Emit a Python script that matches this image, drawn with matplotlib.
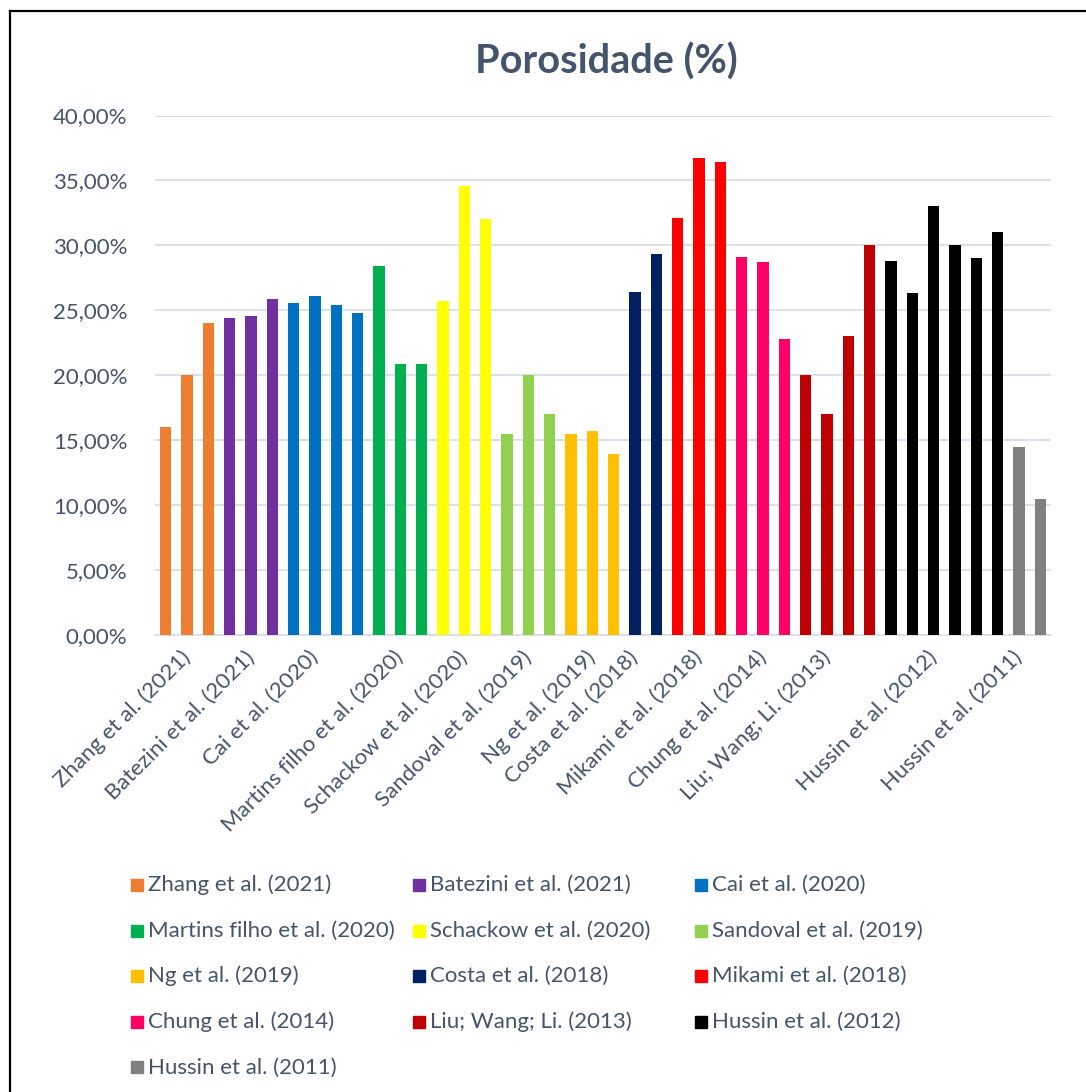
import matplotlib as mpl
mpl.use('Agg')
from matplotlib import pyplot as plt
from matplotlib.lines import Line2D
from matplotlib.patches import Rectangle
from matplotlib.ticker import FuncFormatter

plt.rcParams['font.family'] = ['Lato', 'DejaVu Sans']

# studies, in chart order
groups = ['Zhang et al. (2021)', 'Batezini et al. (2021)', 'Cai et al. (2020)',
          'Martins filho et al. (2020)', 'Schackow et al. (2020)', 'Sandoval et al. (2019)',
          'Ng et al. (2019)', 'Costa et al. (2018)', 'Mikami et al. (2018)',
          'Chung et al. (2014)', 'Liu; Wang; Li. (2013)', 'Hussin et al. (2012)',
          'Hussin et al. (2011)']
colors = ['#ED7D31', '#7030A0', '#0070C0', '#00B050', '#FFFF00', '#92D050',
          '#FFC000', '#002060', '#FF0000', '#FF0066', '#C00000', '#000000', '#808080']

# porosity values (%) for each study
zhang = [16.0, 20.0, 24.0]
batezini = [24.4, 24.6, 25.9]
cai = [25.6, 26.1, 25.4, 24.8]
martins = [28.4, 20.9, 20.9]
schackow = [25.7, 34.6, 32.0]
sandoval = [15.5, 20.0, 17.0]
ng = [15.5, 15.7, 13.9]
costa = [26.4, 29.3]
mikami = [32.1, 36.7, 36.4]
chung = [29.1, 28.7, 22.8]
liu = [20.0, 17.0, 23.0, 30.0]
hussin12 = [28.8, 26.3, 33.0, 30.0, 29.0, 31.0]
hussin11 = [14.5, 10.5]
values = [zhang, batezini, cai, martins, schackow, sandoval, ng, costa,
          mikami, chung, liu, hussin12, hussin11]

# bar index (within each study) carrying the axis label
label_pos = [1, 1, 1, 1, 1, 1, 1, 0, 1, 1, 1, 2, 0]

text_c = '#44546A'
grid_c = '#D9DEE5'

fig = plt.figure(figsize=(10.86, 10.92), dpi=100)
ax = fig.add_axes([155/1086, 1 - 635/1092, 896/1086, 519.5/1092])

x = 0
ticks, ticklabels = [], []
for name, vals, c, lp in zip(groups, values, colors, label_pos):
    xs = list(range(x, x + len(vals)))
    ax.bar(xs, [v/100 for v in vals], width=0.52, color=c, zorder=3)
    ticks.append(xs[lp])
    ticklabels.append(name)
    x += len(vals)

ax.set_xlim(-0.5, x - 0.5)
ax.set_ylim(0, 0.40)
ax.set_yticks([i*0.05 for i in range(9)])
ax.yaxis.set_major_formatter(FuncFormatter(lambda v, p: ('%.2f%%' % (v*100)).replace('.', ',')))
ax.grid(axis='y', color=grid_c, lw=1.3, zorder=0)
ax.set_xticks(ticks)
ax.set_xticklabels(ticklabels, rotation=45, ha='right', va='center',
                   rotation_mode='anchor', fontsize=16, color=text_c)
ax.tick_params(axis='x', length=0, pad=14)
ax.tick_params(axis='y', length=0, pad=20, labelsize=16, labelcolor=text_c)
for s in ['top', 'right', 'left']:
    ax.spines[s].set_visible(False)
ax.spines['bottom'].set_color(grid_c)
ax.spines['bottom'].set_linewidth(1.3)

fig.text(606/1086, 1 - 62/1092, 'Porosidade (%)', ha='center', va='center',
         fontsize=28.5, fontweight='bold', color=text_c)

# legend, 3 columns, row-major
for i, (name, c) in enumerate(zip(groups, colors)):
    r, k = divmod(i, 3)
    lx = (131 + k*282) / 1086
    ly = 1 - (885 + r*45.6) / 1092
    fig.add_artist(Rectangle((lx, ly - 6/1092), 12/1086, 12/1092,
                             transform=fig.transFigure, color=c))
    fig.text(lx + 17/1086, ly, name, ha='left', va='center',
             fontsize=16, color=text_c)

# outer frame (left and top edges)
fig.add_artist(Line2D([10/1086, 10/1086], [0, 1 - 10.5/1092], color='black', lw=1.6))
fig.add_artist(Line2D([10/1086, 1], [1 - 10.5/1092, 1 - 10.5/1092], color='black', lw=1.6))

fig.savefig('out.png', dpi=100)
